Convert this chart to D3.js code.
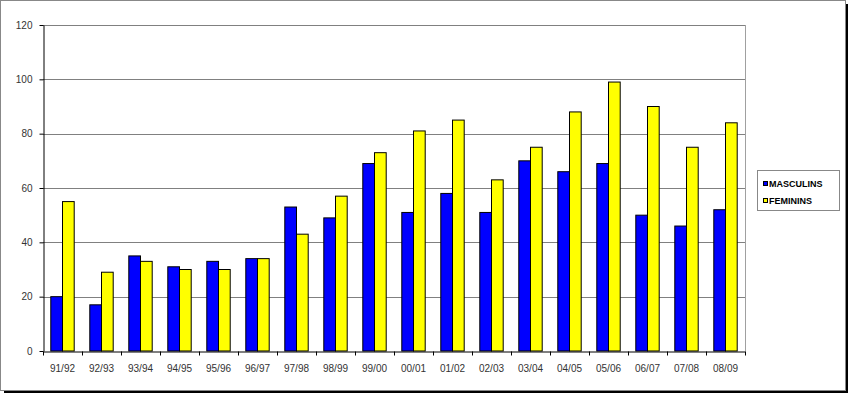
<!DOCTYPE html>
<html>
<head>
<meta charset="utf-8">
<script src="https://cdn.jsdelivr.net/npm/d3@7"></script>
<style>
  body { margin: 0; background: #fff; }
  svg text { font-family: Arial, "Liberation Sans", sans-serif; }
</style>
</head>
<body>
<div id="chart"></div>
<script>
var seasons = ["91/92","92/93","93/94","94/95","95/96","96/97","97/98","98/99","99/00","00/01","01/02","02/03","03/04","04/05","05/06","06/07","07/08","08/09"],
    masculins = [20,17,35,31,33,34,53,49,69,51,58,51,70,66,69,50,46,52],
    feminins  = [55,29,33,30,30,34,43,57,73,81,85,63,75,88,99,90,75,84],
    seriesNames = ["MASCULINS","FEMININS"],
    colors = ["#0000ff","#ffff00"],
    yTicks = [0,20,40,60,80,100,120];

var W = 849, H = 396,
    plot = { left: 43, right: 745, top: 25, bottom: 351 };

var svg = d3.select("#chart").append("svg")
    .attr("width", W)
    .attr("height", H);

// frame with shadow
svg.append("rect")
    .attr("x", 4).attr("y", 4).attr("width", 844).attr("height", 389)
    .attr("fill", "#000");
svg.append("rect")
    .attr("x", 0.5).attr("y", 0.5).attr("width", 845).attr("height", 390)
    .attr("fill", "#fff").attr("stroke", "#888").attr("stroke-width", 1);

var x = d3.scaleBand().domain(seasons).range([plot.left, plot.right]).paddingInner(0).paddingOuter(0);
var y = d3.scaleLinear().domain([0, 120]).range([plot.bottom, plot.top]);

// gridlines
svg.append("g").selectAll("line")
    .data(yTicks.filter(function(d) { return d > 0; }))
    .enter().append("line")
      .attr("x1", plot.left).attr("x2", plot.right)
      .attr("y1", function(d) { return Math.round(y(d)) + 0.5; })
      .attr("y2", function(d) { return Math.round(y(d)) + 0.5; })
      .attr("stroke", "#808080");

// right border of plot area
svg.append("line")
    .attr("x1", plot.right + 0.5).attr("x2", plot.right + 0.5)
    .attr("y1", plot.top).attr("y2", plot.bottom)
    .attr("stroke", "#a0a0a0");

// bars
var barW = 11.7, groupPad = (x.bandwidth() - 2 * barW) / 2;
var data = [];
seasons.forEach(function(s, i) {
  data.push({ s: s, k: 0, v: masculins[i] });
  data.push({ s: s, k: 1, v: feminins[i] });
});
svg.append("g").selectAll("rect")
    .data(data)
    .enter().append("rect")
      .attr("x", function(d) { return x(d.s) + groupPad + d.k * barW; })
      .attr("y", function(d) { return y(d.v); })
      .attr("width", barW)
      .attr("height", function(d) { return plot.bottom - y(d.v); })
      .attr("fill", function(d) { return colors[d.k]; })
      .attr("stroke", "#000")
      .attr("stroke-width", 1);

// y axis
var yAxis = svg.append("g")
    .attr("transform", "translate(" + (plot.left + 0.5) + ",0)")
    .call(d3.axisLeft(y).tickValues(yTicks).tickSize(4).tickSizeOuter(0));
yAxis.select(".domain").attr("stroke", "#000");
yAxis.selectAll("text").attr("font-size", 10).attr("fill", "#333").attr("dx", -4);

// x axis
var xAxis = svg.append("g")
    .attr("transform", "translate(0," + (plot.bottom + 0.5) + ")")
    .call(d3.axisBottom(x).tickSize(0).tickSizeOuter(0));
xAxis.select(".domain").attr("stroke", "#000");
xAxis.selectAll("text").attr("font-size", 10).attr("fill", "#333").attr("dy", "1.75em");
xAxis.selectAll(".sep")
    .data(seasons.concat(["end"]))
    .enter().append("line")
      .attr("class", "sep")
      .attr("x1", function(d, i) { return Math.round(plot.left + i * x.step()) + 0.5; })
      .attr("x2", function(d, i) { return Math.round(plot.left + i * x.step()) + 0.5; })
      .attr("y1", 0).attr("y2", 4)
      .attr("stroke", "#000");

// legend
var legend = svg.append("g").attr("transform", "translate(757,170)");
legend.append("rect")
    .attr("x", 0.5).attr("y", 0.5).attr("width", 82).attr("height", 40)
    .attr("fill", "#fff").attr("stroke", "#888");
var items = legend.selectAll(".item")
    .data(seriesNames)
    .enter().append("g")
      .attr("class", "item")
      .attr("transform", function(d, i) { return "translate(6," + (12 + i * 17) + ")"; });
items.append("rect")
    .attr("x", 0.5).attr("y", -0.5).attr("width", 4).attr("height", 4)
    .attr("fill", function(d, i) { return colors[i]; })
    .attr("stroke", "#000");
items.append("text")
    .attr("x", 6).attr("y", 4.5)
    .attr("font-size", 9).attr("font-weight", "bold")
    .text(function(d) { return d; });
</script>
</body>
</html>
